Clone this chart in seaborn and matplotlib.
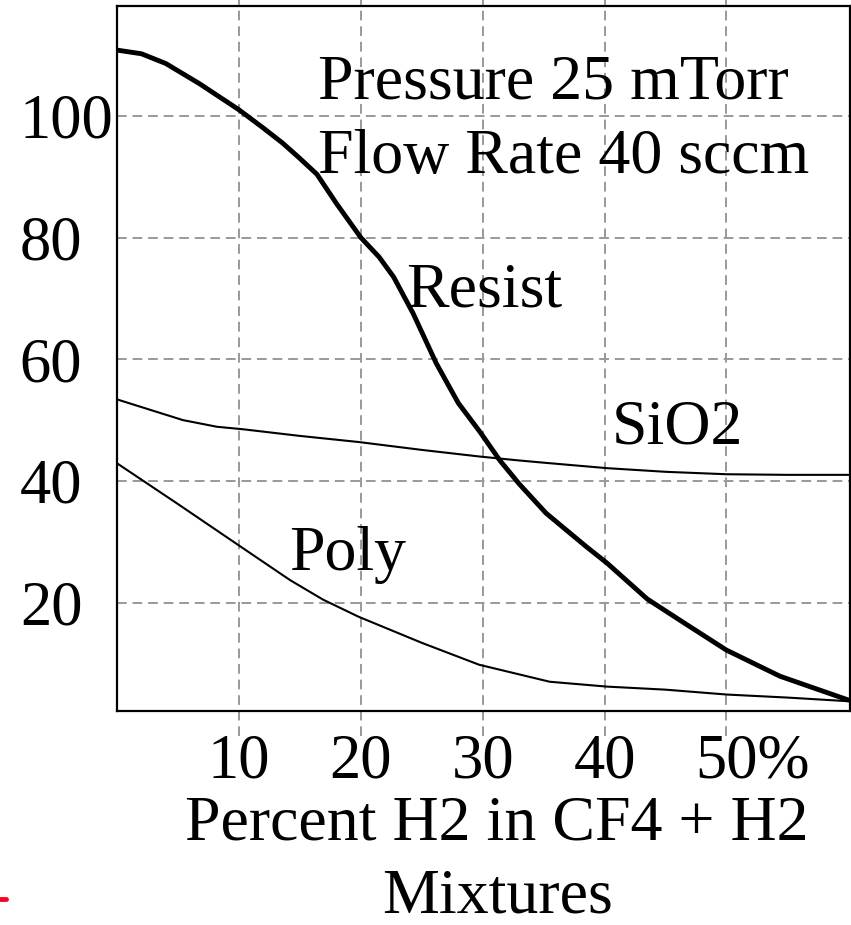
import numpy as np
import pandas as pd
import seaborn as sns
import matplotlib.pyplot as plt
import matplotlib.transforms as mtransforms
from matplotlib.lines import Line2D

# etch rate curves
resist_x = [0, 2, 4, 6.75, 10, 12, 13.6, 15, 16.4, 18, 20, 21.5, 22.7, 24.3, 26.2, 28, 29.8, 31.4, 33, 35.2, 38.5, 40.2, 43.5, 46.5, 50, 54.4, 60]
resist_y = [110.8, 110.2, 108.6, 105.3, 101, 98, 95.5, 93, 90.4, 85.6, 80, 76.8, 73.5, 67.5, 59.3, 52.8, 48, 43.4, 39.5, 34.7, 29.2, 26.5, 20.6, 16.7, 12.2, 7.9, 4.0]

sio2_x = [0, 2.7, 5.4, 8.2, 10.3, 15, 19.8, 25, 29.8, 32.8, 35, 40.2, 45, 50, 55, 60]
sio2_y = [53.4, 51.7, 50.0, 48.9, 48.5, 47.4, 46.4, 45.1, 44.0, 43.4, 43.0, 42.1, 41.5, 41.1, 41.0, 41.0]

poly_x = [0, 5, 10, 14.2, 16.9, 19.8, 25, 29.7, 35.5, 40.2, 45, 50, 55, 60]
poly_y = [42.9, 36.2, 29.4, 23.7, 20.5, 17.7, 13.4, 9.8, 7.0, 6.2, 5.7, 4.9, 4.4, 3.8]

x_ticks = [10, 20, 30, 40, 50]
x_tick_labels = ["10", "20", "30", "40", "50%"]
y_ticks = [20, 40, 60, 80, 100]

sns.set_style("white")
plt.rcParams["font.family"] = ["Liberation Serif", "DejaVu Serif"]
plt.rcParams["font.size"] = 46
for key in ["text.color", "axes.labelcolor", "xtick.color", "ytick.color"]:
    plt.rcParams[key] = "black"

fig = plt.figure(figsize=(8.51, 9.25), dpi=100)
ax = fig.add_axes([0.1375, 0.2314, 0.8608, 0.7618])

grid_kw = dict(color="#999999", lw=1.4, dashes=(5, 3))

# horizontal grid lines
for v in y_ticks:
    ax.axhline(v, zorder=1, **grid_kw)
# vertical grid lines run a bit past the frame
for v in x_ticks:
    ax.axvline(v, ymin=-0.035, ymax=1.02, clip_on=False, zorder=1, **grid_kw)

sns.lineplot(x=resist_x, y=resist_y, ax=ax, color="black", lw=3.5, zorder=3)
sns.lineplot(x=sio2_x, y=sio2_y, ax=ax, color="black", lw=1.5, zorder=3)
sns.lineplot(x=poly_x, y=poly_y, ax=ax, color="black", lw=1.5, zorder=3)

ax.set_xlim(0, 60.1)
ax.set_ylim(2.2, 118)
ax.set_xticks(x_ticks)
ax.set_xticklabels(x_tick_labels)
ax.set_yticks(y_ticks)
ax.tick_params(length=0, labelsize=45)
ax.tick_params(axis="x", pad=16)
# y labels sit flush left near the figure edge
ax.tick_params(axis="y", pad=70)
for lab in ax.get_yticklabels():
    lab.set_ha("left")

# keep "50" centred on its grid line, "%" hangs to the right
pct = ax.get_xticklabels()[-1]
pct.set_transform(pct.get_transform() + mtransforms.ScaledTranslation(0.26, 0, fig.dpi_scale_trans))

for s in ax.spines.values():
    s.set_color("black")
    s.set_linewidth(1.6)
    s.set_zorder(4)

ax.set_xlabel("Percent H2 in CF4 + H2\nMixtures", fontsize=46, linespacing=1.34, va="top")
ax.xaxis.set_label_coords((497 - 117) / 732.5, -0.12)

ax.text(16.45, 102.9, "Pressure 25 mTorr", fontsize=46, va="baseline")
ax.text(16.45, 90.6, "Flow Rate 40 sccm", fontsize=46, va="baseline")
ax.text(23.7, 68.7, "Resist", fontsize=46, va="baseline")
ax.text(40.6, 46.2, "SiO2", fontsize=46, va="baseline")
ax.text(14.15, 25.4, "Poly", fontsize=46, va="baseline")

# small red mark at the bottom left edge
fig.add_artist(Line2D([0, 6 / 851], [1 - 898.5 / 925] * 2, color="#ff0022", lw=3.5,
                      transform=fig.transFigure))

plt.savefig("out.png", dpi=100)
